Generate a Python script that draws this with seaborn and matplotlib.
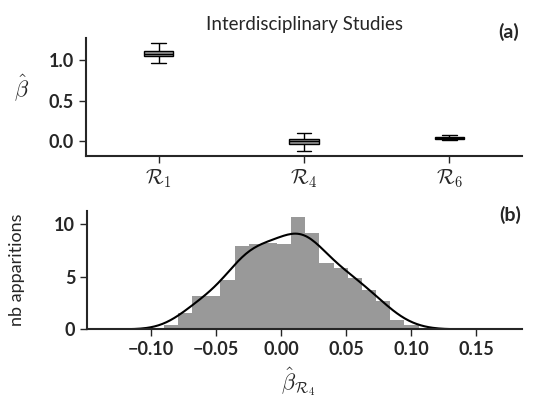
import numpy as np
import pandas as pd
import matplotlib
matplotlib.use("Agg")
import matplotlib.pyplot as plt
import seaborn as sns

sns.set_style("ticks")
plt.rcParams["font.family"] = ["Lato", "DejaVu Sans"]
plt.rcParams["mathtext.fontset"] = "cm"

# ---- panel (a): estimated coefficients per region (min, q1, median, q3, max)
regions = [r"$\mathcal{R}_1$", r"$\mathcal{R}_4$", r"$\mathcal{R}_6$"]
beta_r1 = [0.963, 1.053, 1.084, 1.115, 1.211]
beta_r4 = [-0.118, -0.035, 0.000, 0.028, 0.100]
beta_r6 = [0.008, 0.030, 0.044, 0.057, 0.079]

# ---- panel (b): distribution of the R4 coefficient (density per bin)
r4_bin_range = (-0.0902, 0.1057)
r4_density = [0.41, 1.59, 3.20, 3.20, 4.67, 7.94, 8.10, 8.19, 8.10,
              10.73, 9.14, 6.35, 5.87, 4.92, 3.75, 2.70, 0.89, 0.45]
kde_clip = (-0.134, 0.170)

box_df = pd.DataFrame({
    "region": np.repeat(regions, 5),
    "beta": np.concatenate([beta_r1, beta_r4, beta_r6]),
})

n_bins = len(r4_density)
bin_w = (r4_bin_range[1] - r4_bin_range[0]) / n_bins
bin_centers = r4_bin_range[0] + bin_w * (np.arange(n_bins) + 0.5)

fig = plt.figure(figsize=(5.34, 4.0), dpi=100)
ax_a = fig.add_axes([86 / 534, 1 - 156 / 400, 436 / 534, 118 / 400])
ax_b = fig.add_axes([87 / 534, 1 - 329.3 / 400, 435 / 534, 118.3 / 400])

# boxplot
sns.boxplot(data=box_df, x="region", y="beta", ax=ax_a, whis=(0, 100),
            width=0.2, color="#999999", linecolor="k", linewidth=1,
            saturation=1)
ax_a.set_title("Interdisciplinary Studies", fontsize=13.5, pad=6)
ax_a.set_xlabel("")
ax_a.set_ylabel(r"$\hat{\beta}$", rotation=0, fontsize=16, va="center", ha="center")
ax_a.yaxis.set_label_coords((22 - 86) / 436, (156 - 88) / 118)
ax_a.set_yticks([0.0, 0.5, 1.0])

# histogram + kde
sns.histplot(x=bin_centers, weights=r4_density, bins=n_bins,
             binrange=r4_bin_range, color="k", alpha=0.4, linewidth=0,
             ax=ax_b)
sns.kdeplot(x=bin_centers, weights=r4_density, bw_method=0.35, cut=10,
            clip=kde_clip, color="k", linewidth=1.5, ax=ax_b)
ax_b.set_ylabel("nb apparitions", fontsize=13, va="center", ha="center")
ax_b.yaxis.set_label_coords((17 - 87) / 435, 0.5)
ax_b.set_xlabel(r"$\hat{\beta}_{\mathcal{R}_4}$", fontsize=16, va="center", ha="center")
ax_b.xaxis.set_label_coords((298 - 87) / 435, (329.3 - 382) / 118.3)
ax_b.set_xticks([-0.10, -0.05, 0.00, 0.05, 0.10, 0.15])
ax_b.set_yticks([0, 5, 10])

for ax in (ax_a, ax_b):
    sns.despine(ax=ax)
    for s in ("left", "bottom"):
        ax.spines[s].set_linewidth(1.5)
    ax.tick_params(width=1, length=5, labelsize=13)
    for lab in ax.get_yticklabels():
        lab.set_fontweight("bold")
for lab in ax_b.get_xticklabels():
    lab.set_fontweight("bold")
ax_a.tick_params(axis="x", labelsize=15)

fig.text(519 / 534, 1 - 32 / 400, "(a)", ha="right", va="center",
         fontsize=14, fontweight="bold")
fig.text(521 / 534, 1 - 215 / 400, "(b)", ha="right", va="center",
         fontsize=14, fontweight="bold")

fig.savefig("out.png", dpi=100)
